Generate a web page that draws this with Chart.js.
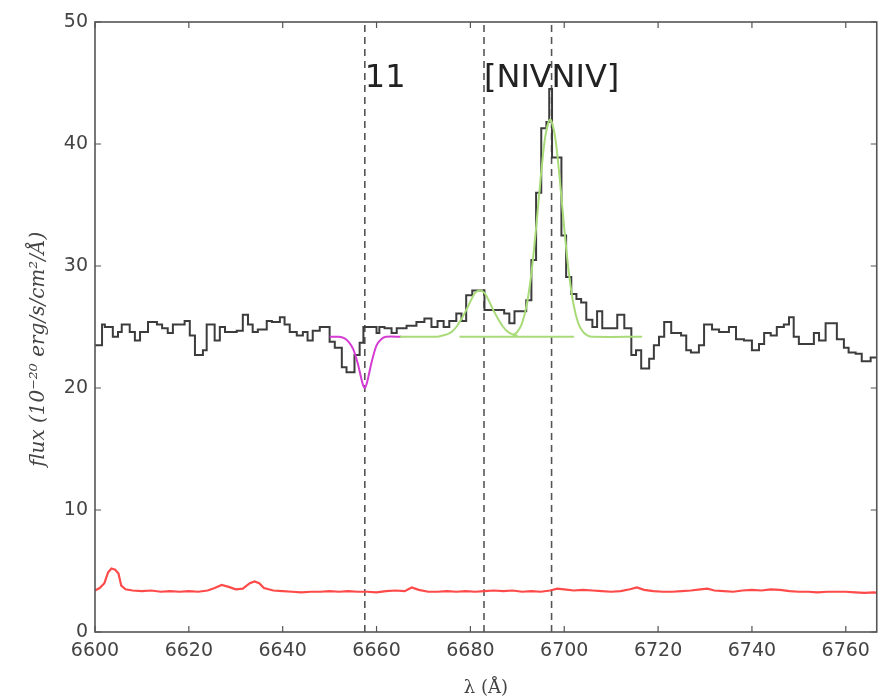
<!DOCTYPE html>
<html>
<head>
<meta charset="utf-8">
<script src="https://cdn.jsdelivr.net/npm/chart.js@4.4.0/dist/chart.umd.min.js"></script>
<style>
html,body{margin:0;padding:0;background:#fff;}
#wrap{width:878px;height:700px;}
canvas{filter:blur(0.5px);}
</style>
</head>
<body>
<div id="wrap"><canvas id="c" width="878" height="700"></canvas></div>
<script>
// ---- data ----
// observed spectrum (step starts, Angstrom) and flux (1e-20 erg/s/cm2/A)
const specWave = [6600.0,6601.5,6602.1,6603.8,6604.9,6605.7,6607.4,6608.5,6609.6,6611.3,6613.2,6614.3,6615.5,6616.6,6619.1,6620.2,6621.3,6623.0,6623.8,6625.5,6626.6,6627.7,6630.2,6631.5,6632.6,6633.6,6634.7,6636.6,6637.7,6639.4,6640.4,6641.5,6643.0,6644.3,6645.3,6646.4,6647.9,6650.0,6651.1,6652.6,6653.6,6655.3,6656.4,6657.2,6660.0,6660.6,6661.7,6663.2,6664.3,6666.4,6668.5,6670.2,6671.7,6673.0,6674.3,6675.5,6677.0,6678.1,6679.1,6680.4,6683.0,6687.2,6688.3,6689.4,6691.9,6693.0,6694.0,6695.1,6696.2,6696.8,6697.4,6699.4,6700.4,6701.5,6702.6,6703.6,6704.7,6706.0,6707.0,6708.1,6711.3,6712.8,6714.3,6715.3,6716.4,6718.1,6719.1,6720.2,6721.3,6722.8,6724.9,6726.0,6727.0,6728.7,6729.8,6731.5,6733.0,6735.1,6736.6,6738.3,6740.0,6741.5,6742.6,6744.0,6745.3,6746.8,6747.9,6748.9,6750.0,6753.2,6754.3,6755.7,6758.1,6759.6,6760.6,6762.1,6763.4,6765.3,6767.0];
const specFlux = [23.5,25.2,25.0,24.2,24.6,25.2,24.6,23.9,24.6,25.4,25.2,24.9,24.5,25.2,25.5,24.3,22.7,23.1,25.2,23.9,25.0,24.6,24.7,26.0,25.2,24.6,24.8,25.5,25.4,25.8,25.2,24.6,24.3,24.6,23.9,24.7,25.0,23.8,23.3,21.7,21.3,22.7,23.7,25.0,24.5,25.0,24.9,24.5,24.9,25.1,25.4,25.7,25.0,25.5,25.0,25.5,26.1,25.5,27.6,28.0,26.4,26.1,25.3,26.3,27.2,30.5,36.0,41.3,41.8,44.5,38.9,32.5,29.1,27.7,27.3,27.0,25.6,25.0,26.3,24.9,26.0,24.9,22.7,23.1,21.6,22.4,23.5,24.2,25.4,24.5,24.3,23.1,22.9,23.5,25.2,24.8,24.6,25.0,24.0,23.9,23.1,23.6,24.5,24.3,25.0,25.2,25.8,24.2,23.6,24.5,23.9,25.3,24.0,23.3,22.9,22.8,22.2,22.5,22.5];

// error spectrum
const errWave = [6600,6601,6602,6602.8,6603.5,6604.3,6605,6605.6,6606.5,6608,6610,6612,6614,6616,6618,6620,6622,6624,6625.5,6627,6628.5,6630,6631.5,6633,6634,6635,6636,6638,6640,6642,6644,6646,6648,6650,6652,6654,6656,6658,6660,6662,6664,6666,6667.5,6669,6671,6673,6675,6677,6679,6681,6683,6685,6687,6689,6691,6693,6695,6697,6698.5,6700,6702,6704,6706,6708,6710,6712,6714,6715.5,6717,6719,6721,6723,6725,6727,6729,6730.5,6732,6734,6736,6738,6740,6742,6744,6746,6748,6750,6752,6754,6756,6758,6760,6762,6764,6766,6767];
const errFlux = [3.4,3.6,4.0,4.9,5.2,5.1,4.8,3.8,3.5,3.4,3.35,3.4,3.3,3.35,3.3,3.35,3.3,3.4,3.6,3.85,3.7,3.5,3.55,4.0,4.15,4.0,3.6,3.4,3.35,3.3,3.25,3.3,3.3,3.35,3.3,3.35,3.3,3.3,3.25,3.35,3.4,3.35,3.65,3.45,3.3,3.3,3.35,3.3,3.35,3.3,3.35,3.4,3.35,3.4,3.3,3.35,3.3,3.4,3.55,3.5,3.4,3.45,3.4,3.35,3.3,3.35,3.5,3.65,3.45,3.35,3.3,3.3,3.35,3.4,3.5,3.55,3.4,3.35,3.3,3.4,3.45,3.4,3.5,3.45,3.35,3.3,3.3,3.25,3.3,3.3,3.3,3.25,3.2,3.25,3.2];

// absorption fit (magenta)
const absWave = [6650.0,6652,6653,6654,6655,6656,6657,6657.5,6658,6659,6660,6661,6662,6665.3];
const absFlux = [24.2,24.2,24.1,23.8,23.2,22.0,20.4,20.0,20.5,22.2,23.5,24.0,24.2,24.2];

// emission fits (green), three drawn windows
const fit1Wave = [6665,6670,6673,6674,6675,6676,6677,6678,6679,6680,6681,6682,6683,6684,6685,6686,6687,6688,6689,6690];
const fit1Flux = [24.2,24.2,24.2,24.3,24.4,24.6,25.0,25.6,26.3,27.1,27.8,28.0,27.8,27.1,26.3,25.6,25.0,24.6,24.4,24.3];
const fit2Wave = [6677.7,6702.1];
const fit2Flux = [24.2,24.2];
const fit3Wave = [6689,6690,6691,6692,6693,6694,6695,6696,6697,6698,6699,6700,6701,6702,6703,6704,6705,6706,6716.6];
const fit3Flux = [24.3,24.6,25.3,26.8,29.4,33.1,37.3,40.7,42.0,40.7,37.3,33.1,29.4,26.8,25.3,24.6,24.3,24.2,24.2];

// line markers
const lineWave = [6657.5,6682.9,6697.3];
const lineLabels = ['11','[NIV','NIV]'];
const labelLevel = 44.7;

// axis ticks
const xTicks = [6600,6620,6640,6660,6680,6700,6720,6740,6760];
const yTicks = [0,10,20,30,40,50];
const xRange = [6600,6766.6];
const yRange = [0,50];

const pts = (w,f) => w.map((x,i)=>({x:x,y:f[i]}));

const datasets = [];
lineWave.forEach(w=>{
  datasets.push({data:[{x:w,y:yRange[0]},{x:w,y:yRange[1]}],borderColor:'#555',borderWidth:1.6,borderDash:[7,5],pointRadius:0,order:5});
});
datasets.push({data:pts(errWave,errFlux),borderColor:'#ff4a4a',borderWidth:2.2,pointRadius:0,tension:0,order:4});
datasets.push({data:pts(specWave,specFlux),borderColor:'#3c3c3c',borderWidth:2,pointRadius:0,stepped:'before',order:3});
datasets.push({data:pts(absWave,absFlux),borderColor:'#d43cd4',borderWidth:2,pointRadius:0,tension:0.3,order:2});
datasets.push({data:pts(fit1Wave,fit1Flux),borderColor:'#a9db78',borderWidth:2,pointRadius:0,tension:0.3,order:1});
datasets.push({data:pts(fit2Wave,fit2Flux),borderColor:'#a9db78',borderWidth:2,pointRadius:0,order:1});
datasets.push({data:pts(fit3Wave,fit3Flux),borderColor:'#a9db78',borderWidth:2,pointRadius:0,tension:0.3,order:1});

const framePlugin = {
  id:'frame',
  afterDatasetsDraw(chart){
    const {ctx,chartArea:a,scales:{x,y}} = chart;
    ctx.save();
    ctx.strokeStyle='#555';
    ctx.lineWidth=1.6;
    ctx.strokeRect(a.left,a.top,a.right-a.left,a.bottom-a.top);
    ctx.lineWidth=1.2;
    ctx.beginPath();
    xTicks.forEach(v=>{const px=x.getPixelForValue(v);
      ctx.moveTo(px,a.bottom);ctx.lineTo(px,a.bottom-6);
      ctx.moveTo(px,a.top);ctx.lineTo(px,a.top+6);});
    yTicks.forEach(v=>{const py=y.getPixelForValue(v);
      ctx.moveTo(a.left,py);ctx.lineTo(a.left+6,py);
      ctx.moveTo(a.right,py);ctx.lineTo(a.right-6,py);});
    ctx.stroke();
    ctx.fillStyle='#222';
    ctx.font='32px "DejaVu Sans"';
    ctx.textAlign='left';
    ctx.textBaseline='alphabetic';
    lineWave.forEach((w,i)=>{
      ctx.fillText(lineLabels[i],x.getPixelForValue(w),y.getPixelForValue(labelLevel));
    });
    ctx.restore();
  }
};

new Chart(document.getElementById('c'),{
  type:'line',
  data:{datasets:datasets},
  options:{
    responsive:false,
    animation:false,
    devicePixelRatio:1,
    layout:{padding:{left:0,right:1,top:22,bottom:0}},
    plugins:{legend:{display:false},tooltip:{enabled:false}},
    scales:{
      x:{type:'linear',min:xRange[0],max:xRange[1],
        grid:{display:false,drawTicks:false},border:{display:false},
        afterFit:s=>{s.height=68;},
        afterBuildTicks:s=>{s.ticks=xTicks.map(v=>({value:v}));},
        ticks:{padding:8,color:'#444',font:{family:'DejaVu Sans',size:19},maxRotation:0,autoSkip:false,callback:v=>String(v)},
        title:{display:true,text:'λ (Å)',color:'#444',font:{family:'DejaVu Serif',size:18},padding:{top:0,bottom:1}}
      },
      y:{type:'linear',min:yRange[0],max:yRange[1],
        grid:{display:false,drawTicks:false},border:{display:false},
        afterFit:s=>{s.width=95;},
        afterBuildTicks:s=>{s.ticks=yTicks.map(v=>({value:v}));},
        ticks:{padding:7,color:'#444',font:{family:'DejaVu Sans',size:19},callback:v=>String(v)},
        title:{display:true,text:'flux (10⁻²⁰ erg/s/cm²/Å)       ',color:'#444',font:{family:'DejaVu Serif',size:20,style:'italic'},padding:{top:27,bottom:0}}
      }
    }
  },
  plugins:[framePlugin]
});
</script>
</body>
</html>
